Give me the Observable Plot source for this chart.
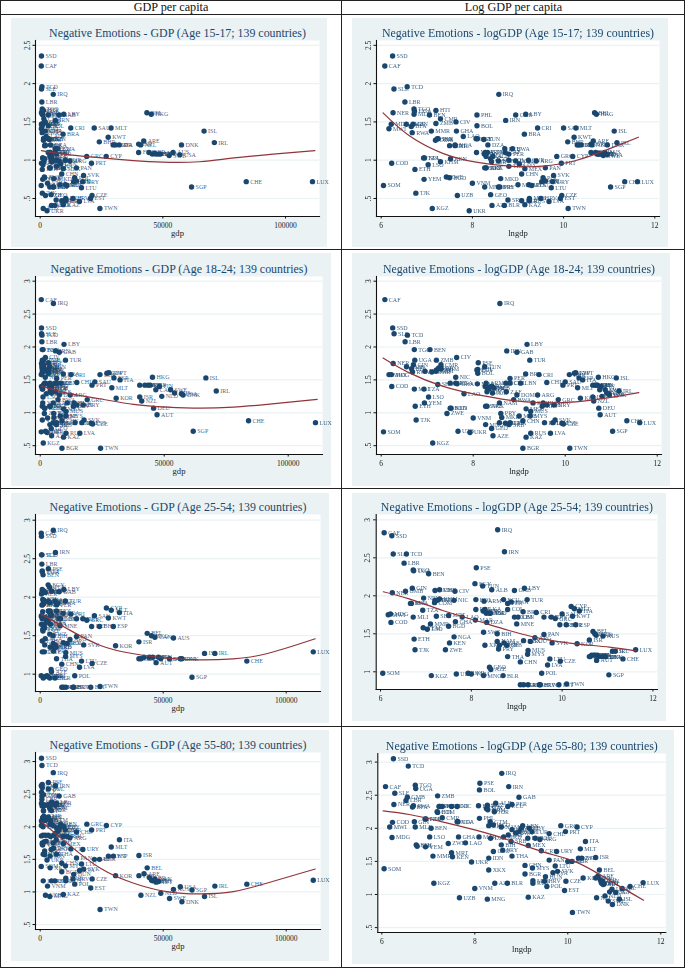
<!DOCTYPE html>
<html>
<head>
<meta charset="utf-8">
<script src="https://cdn.jsdelivr.net/npm/d3@7"></script>
<script src="https://cdn.jsdelivr.net/npm/@observablehq/plot@0.6"></script>
<style>
  html, body { margin: 0; padding: 0; background: #fff; }
  #page { position: relative; width: 685px; height: 968px; overflow: hidden; font-family: "Liberation Serif", serif; }
  .head { position: absolute; top: 1px; height: 13px; line-height: 13px; text-align: center; font-size: 12.2px; color: #111; }
  .h { position: absolute; left: 0; width: 685px; background: #222; }
  .v { position: absolute; top: 0; height: 968px; width: 1px; background: #222; }
  .panel { position: absolute; }
  .panel svg { display: block; filter: blur(0.3px); }
</style>
</head>
<body>
<div id="page"></div>
<script>
const codes = [
"SOM","CAF","MWI","COD","MDG","NER","SSD","SLE","LBR","TCD",
"GMB","GIN","BFA","RWA","TGO","UGA","MLI","ETH","TJK","TZA",
"YEM","NPL","BEN","LSO","KGZ","MMR","HTI","ZMB","COM","SEN",
"PAK","CMR","KHM","ZWE","BGD","KEN","MRT","NGA","NIC","CIV",
"UZB","GHA","LAO","VNM","UKR","PHL","PSE","BOL","EGY","MAR",
"TUN","SLV","MNG","LKA","DZA","ARM","IDN","XKX","GEO","AGO",
"AZE","GTM","JOR","SWZ","ALB","NAM","BIH","PRY","IRQ","ECU",
"IRN","BLR","ZAF","SRB","PER","COL","THA","MKD","BWA","GAB",
"DOM","MNE","LBN","BGR","CHN","BRA","MEX","KAZ","LBY","TUR",
"MUS","RUS","MYS","ROU","ARG","CRI","HUN","HRV","POL","PAN",
"CHL","GRC","LVA","LTU","URY","SVK","EST","CZE","PRT","TWN",
"BHR","SAU","MLT","CYP","KWT","ESP","KOR","ITA","NZL","ISR",
"ARE","FRA","BEL","HKG","GBR","DEU","AUT","FIN","NLD","CAN",
"SWE","AUS","USA","DNK","SGP","ISL","IRL","CHE","LUX"];
const lngdp = [
6.05,6.08,6.17,6.23,6.22,6.26,6.25,6.28,6.52,6.57,
6.55,6.70,6.66,6.68,6.72,6.73,6.72,6.74,6.76,6.93,
6.94,6.95,7.06,7.03,7.12,7.10,7.20,7.20,7.19,7.23,
7.25,7.30,7.30,7.43,7.50,7.52,7.50,7.62,7.62,7.64,
7.67,7.65,7.80,8.00,7.93,8.10,8.11,8.10,8.08,8.09,
8.25,8.26,8.27,8.30,8.34,8.28,8.30,8.30,8.40,8.40,
8.43,8.33,8.42,8.27,8.45,8.57,8.57,8.60,8.58,8.71,
8.73,8.70,8.72,8.78,8.80,8.80,8.80,8.62,8.88,8.95,
8.95,9.00,9.03,9.08,9.08,9.14,9.15,9.15,9.17,9.23,
9.25,9.25,9.24,9.30,9.40,9.43,9.52,9.50,9.55,9.60,
9.60,9.85,9.68,9.73,9.76,9.78,9.93,9.96,9.95,10.10,
10.09,10.00,10.27,10.20,10.23,10.30,10.33,10.38,10.62,10.60,
10.65,10.60,10.68,10.72,10.70,10.73,10.76,10.78,10.80,10.75,
10.87,10.90,10.95,10.96,11.03,11.11,11.17,11.34,11.62];
const gdp = [
424,437,478,508,503,523,518,534,679,713,
699,812,780,796,829,837,829,845,863,1022,
1032,1043,1164,1130,1236,1212,1339,1339,1326,1380,
1408,1480,1480,1686,1808,1845,1808,2038,2038,2080,
2143,2100,2440,2981,2780,3294,3327,3294,3229,3261,
3827,3866,3905,4024,4188,3944,4024,4024,4447,4447,
4595,4150,4539,3905,4675,5273,5273,5432,5324,6063,
6185,6003,6124,6503,6634,6634,6634,5541,7187,7708,
7708,8103,8349,8778,8778,9321,9414,9414,9604,10198,
10405,10405,10301,10938,12088,12456,13630,13360,14044,14765,
14765,18958,15994,16814,17326,17676,20537,21121,20910,24343,
24100,22026,28884,26903,27722,29732,30638,32208,40945,40134,
42207,40134,43492,45267,44356,45722,47115,48066,49021,46630,
52574,54176,56954,57600,61700,66800,71000,84000,111000];
const neg1517 = [
.67,2.23,1.41,.96,1.47,1.62,2.36,1.93,1.76,1.96,
1.47,1.47,1.44,1.36,1.67,1.64,1.60,.88,.57,1.03,
.75,1.03,1.59,.94,.37,1.38,1.65,1.48,1.26,1.28,
1.28,1.54,.98,.78,.77,1.02,1.19,1.20,1.19,1.50,
.54,1.38,1.31,.70,.34,1.59,1.28,1.45,1.28,1.10,
1.27,1.08,.65,1.05,1.20,1.10,.90,.90,.55,1.02,
.41,1.10,.98,.90,1.05,.99,.65,.65,1.86,1.15,
1.52,.41,1.10,.48,1.08,1.00,.92,.76,1.15,1.59,
.99,.68,.95,.47,.82,1.34,.89,.42,1.60,1.00,
.50,.47,.68,.67,.99,1.42,.72,.50,.77,.90,
.73,1.05,.46,.64,.72,.80,.50,.54,.96,.37,
1.24,1.42,1.42,1.05,1.30,1.20,1.20,1.20,1.20,1.21,
1.25,1.10,1.62,1.60,1.10,1.08,1.08,1.08,1.08,1.09,
1.06,1.10,1.07,1.20,.65,1.38,1.23,.72,.72];
const neg1824 = [
.71,2.72,1.58,1.40,1.58,1.75,2.29,2.20,2.08,2.18,
1.70,1.73,1.67,1.62,1.96,1.80,1.36,1.10,.89,1.36,
1.15,1.63,1.96,1.24,.54,1.62,1.65,1.80,1.63,1.43,
1.68,1.73,1.67,.99,1.07,1.07,1.45,1.45,1.54,1.84,
.72,1.44,1.29,.92,.70,1.66,1.76,1.60,1.65,1.44,
1.70,1.40,.82,1.38,1.36,1.45,1.32,1.10,.76,1.40,
.65,1.38,1.30,1.10,1.38,1.15,.85,.99,2.66,1.45,
1.94,.84,1.32,.82,1.52,1.45,.85,.93,1.20,1.92,
1.27,.95,1.45,.46,.88,1.59,1.06,.63,2.04,1.80,
1.02,.69,.95,1.15,1.27,1.58,1.15,1.10,.85,1.12,
1.46,1.20,.69,.85,1.12,.89,.84,.83,1.42,.46,
1.58,1.47,1.38,1.60,1.61,1.53,1.22,1.50,1.18,1.24,
1.42,1.42,1.42,1.54,1.42,1.07,.97,1.40,1.25,1.35,
1.35,1.30,1.29,1.27,.72,1.53,1.33,.88,.85];
const neg2554 = [
.98,2.83,1.75,1.65,1.76,2.04,2.79,2.55,2.43,2.55,
2.06,2.10,1.90,1.90,2.34,2.33,1.72,1.43,1.29,1.81,
1.58,1.97,2.29,1.56,.95,1.63,1.94,2.07,1.91,1.73,
1.94,2.08,1.96,1.29,1.60,1.38,1.74,1.46,1.94,2.06,
.97,1.66,1.72,.97,.98,1.82,2.37,1.95,2.16,1.68,
2.13,1.80,.95,1.82,1.65,1.93,1.80,1.35,1.06,1.77,
1.03,1.77,1.77,1.52,2.08,1.40,1.50,1.30,2.87,1.95,
2.58,.95,1.38,1.35,1.90,1.82,1.20,1.35,1.92,2.07,
1.72,1.63,1.72,.83,1.13,1.79,1.41,.83,2.10,1.95,
1.28,.83,1.23,1.40,1.45,1.78,.83,.83,.98,1.49,
1.72,1.70,1.09,1.17,1.72,1.38,.83,1.14,1.62,.84,
1.62,1.76,1.83,1.86,1.73,1.62,1.37,1.80,1.20,1.42,
1.22,1.20,1.53,1.50,1.22,1.22,1.15,1.22,1.20,1.48,
1.20,1.47,1.20,1.20,.96,1.27,1.27,1.17,1.29];
const neg5580 = [
1.39,2.63,2.02,2.09,1.86,2.36,3.05,2.53,2.42,2.94,
2.47,2.10,2.32,2.34,2.65,2.60,2.02,1.75,1.73,2.14,
1.72,2.14,2.00,1.87,1.17,1.58,2.24,2.49,2.25,2.33,
2.33,2.16,2.33,1.77,2.33,1.57,1.63,2.10,2.33,2.10,
.95,1.87,1.78,1.09,1.49,2.15,2.68,2.58,2.34,1.87,
2.30,2.30,.93,2.04,1.85,2.28,1.55,1.37,1.65,2.05,
1.17,2.10,2.25,2.35,2.38,2.02,1.75,1.67,2.83,2.33,
2.63,1.17,1.90,1.80,2.36,1.98,1.58,1.87,1.93,2.47,
1.95,2.00,2.04,1.31,1.44,1.85,1.74,.96,2.00,1.95,
1.21,1.17,1.40,1.85,1.83,1.66,1.27,1.20,1.12,1.52,
1.92,2.04,1.33,1.43,1.65,1.35,1.06,1.20,1.95,.73,
1.50,1.50,1.69,2.02,1.55,1.55,1.25,1.80,.95,1.56,
1.28,1.25,1.37,1.18,1.22,1.17,1.15,1.16,.98,1.20,
.90,1.04,1.08,.85,1.03,.93,1.09,1.12,1.18];

// fitted curves
const fitGdp1517 = [500,12000,25000,38000,50000,65000,78000,95000,112000];
const fitGdpVal1517 = [1.125,1.07,1.03,.995,.975,.98,1.026,1.08,1.126];
const fitLog1517 = [6.04,6.61,7.35,8.08,8.81,9.54,10.27,11,11.64];
const fitLogVal1517 = [1.618,1.322,1.09,.974,.922,.922,.996,1.148,1.30];
const fitGdp1824 = [500,10800,24000,37700,51000,64600,78000,91500,111700];
const fitGdpVal1824 = [1.406,1.30,1.213,1.127,1.086,1.07,1.086,1.127,1.203];
const fitLog1824 = [6.04,6.6,7.33,8.06,8.78,9.5,10.23,10.96,11.6];
const fitLogVal1824 = [1.832,1.61,1.406,1.28,1.193,1.152,1.167,1.23,1.305];
const fitGdp2554 = [500,11000,24500,38000,51400,65000,78500,92000,111800];
const fitGdpVal2554 = [1.777,1.59,1.373,1.265,1.208,1.187,1.2,1.265,1.46];
const fitLog2554 = [6.06,6.63,7.37,8.1,8.83,9.57,10.3,11.04,11.62];
const fitLogVal2554 = [2.053,1.96,1.807,1.675,1.544,1.434,1.368,1.325,1.276];
const fitGdp5580 = [500,11000,24500,38000,51400,65000,78500,92000,111800];
const fitGdpVal5580 = [2.077,1.745,1.362,1.133,1.005,.97,1.005,1.133,1.352];
const fitLog5580 = [6.03,6.59,7.3,8.02,8.74,9.46,10.17,10.89,11.63];
const fitLogVal5580 = [2.264,2.208,2.098,1.972,1.82,1.645,1.493,1.217,.914];

const ageLabels = ["15-17","18-24","25-54","55-80"];
const xTicksGdp = [0,50000,100000];
const xTicksLog = [6,8,10,12];
const yTicks1 = [.5,1,1.5,2,2.5];
const yTicks2 = [.5,1,1.5,2,2.5,3];
const yTicks3 = [1,1.5,2,2.5,3];

const BG = "#eaf2f3", NAVY = "#1a476f", MAROON = "#90353b";

// layout of each panel: box, margins, scale domains
const panels = [
 {log:0,age:0,y:neg1517,fx:fitGdp1517,fy:fitGdpVal1517,yt:yTicks1,box:[11,18,316,229],m:[22,8,31,24],xd:[-1916,113860],yd:[.265,2.563]},
 {log:1,age:0,y:neg1517,fx:fitLog1517,fy:fitLogVal1517,yt:yTicks1,box:[352,18,316,229],m:[22,9,31,24],xd:[5.897,12.103],yd:[.265,2.563]},
 {log:0,age:1,y:neg1824,fx:fitGdp1824,fy:fitGdpVal1824,yt:yTicks2,box:[11,253,320,233],m:[23,9,32,24],xd:[-1895,113830],yd:[.366,3.071]},
 {log:1,age:1,y:neg1824,fx:fitLog1824,fy:fitLogVal1824,yt:yTicks2,box:[352,253,318,233],m:[23,9,32,24],xd:[5.898,12.093],yd:[.366,3.071]},
 {log:0,age:2,y:neg2554,fx:fitGdp2554,fy:fitGdpVal2554,yt:yTicks3,box:[11,493,318,230],m:[21,9,32,24],xd:[-1910,113940],yd:[.775,3.074]},
 {log:1,age:2,y:neg2554,fx:fitLog2554,fy:fitLogVal2554,yt:yTicks3,box:[352,493,314,228],m:[21,9,32,23.7],xd:[5.905,12.101],yd:[.767,3.07]},
 {log:0,age:3,y:neg5580,fx:fitGdp5580,fy:fitGdpVal5580,yt:yTicks2,box:[11,730,318,231],m:[22,9,32,24],xd:[-1910,113940],yd:[.424,3.139]},
 {log:1,age:3,y:neg5580,fx:fitLog5580,fy:fitLogVal5580,yt:yTicks2,box:[352,730,322,234],m:[23,8.7,32,25.3],xd:[5.914,12.108],yd:[.426,3.13]}
];

const page = document.getElementById("page");
const yFmt = d => d === 0.5 ? ".5" : String(d);

for (const p of panels) {
  const xs = p.log ? lngdp : gdp;
  const pts = codes.map((c, i) => ({c, x: xs[i], y: p.y[i]}));
  const fit = p.fx.map((x, i) => ({x, y: p.fy[i]}));
  const [L, T, W, H] = p.box;
  const [mT, mR, mB, mL] = p.m;
  const title = `Negative Emotions - ${p.log ? "logGDP" : "GDP"} (Age ${ageLabels[p.age]}; 139 countries)`;
  const chart = Plot.plot({
    width: W, height: H,
    marginTop: mT, marginRight: mR, marginBottom: mB, marginLeft: mL,
    x: {domain: p.xd},
    y: {domain: p.yd},
    style: {background: BG, fontFamily: "'Liberation Serif', serif", color: NAVY, overflow: "visible"},
    marks: [
      Plot.frame({fill: "#fff", stroke: null}),
      Plot.ruleY(p.yt, {stroke: BG, strokeWidth: 1.2}),
      Plot.frame({anchor: "left", stroke: "#111", strokeWidth: 1.1}),
      Plot.frame({anchor: "bottom", stroke: "#111", strokeWidth: 1.1}),
      Plot.axisX({ticks: p.log ? xTicksLog : xTicksGdp, tickFormat: d => String(d), tickSize: 2.5, tickPadding: 4, fontSize: 7.5, label: null, stroke: "#111", color: "#222"}),
      Plot.axisY({ticks: p.yt, tickFormat: yFmt, tickSize: 2.5, tickRotate: -90, tickPadding: 3.5, fontSize: 7.5, label: null, stroke: "#111", color: "#222"}),
      Plot.text([title], {frameAnchor: "top", dy: -7, fontSize: 11.9, fill: NAVY, lineAnchor: "middle"}),
      Plot.text([p.log ? "lngdp" : "gdp"], {frameAnchor: "bottom", dy: 16.5, fontSize: 8.6, fill: "#222", lineAnchor: "middle"}),
      Plot.dot(pts, {x: "x", y: "y", r: 2.7, fill: NAVY, stroke: "none"}),
      Plot.text(pts, {x: "x", y: "y", text: "c", dx: 4, textAnchor: "start", fontSize: 6, fill: NAVY, fillOpacity: 0.85}),
      Plot.line(fit, {x: "x", y: "y", curve: "natural", stroke: MAROON, strokeWidth: 1.2})
    ]
  });
  const holder = document.createElement("div");
  holder.className = "panel";
  holder.style.cssText = `left:${L}px;top:${T}px;width:${W}px;height:${H}px`;
  holder.appendChild(chart);
  page.appendChild(holder);
}

// table rules and header row
for (const [y, h] of [[0,1],[14,1.2],[249,1],[488,1.4],[726,1.4],[967,1]]) {
  const d = document.createElement("div");
  d.className = "h"; d.style.top = y + "px"; d.style.height = h + "px";
  page.appendChild(d);
}
for (const x of [0,341,684]) {
  const d = document.createElement("div");
  d.className = "v"; d.style.left = x + "px";
  page.appendChild(d);
}
for (const [txt, l, w] of [["GDP per capita",0,342],["Log GDP per capita",342,343]]) {
  const d = document.createElement("div");
  d.className = "head"; d.textContent = txt;
  d.style.left = l + "px"; d.style.width = w + "px";
  page.appendChild(d);
}
</script>
</body>
</html>
